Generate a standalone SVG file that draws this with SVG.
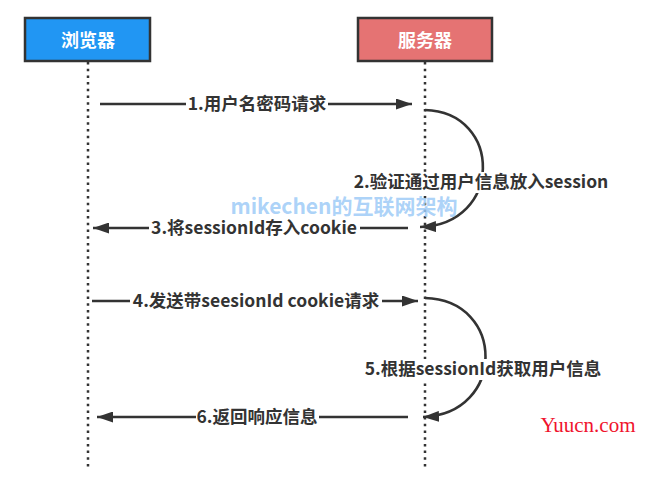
<svg xmlns="http://www.w3.org/2000/svg" width="650" height="480" viewBox="0 0 650 480">
<defs>
<marker id="ah" markerWidth="16" markerHeight="11" refX="16" refY="5.5" orient="auto" markerUnits="userSpaceOnUse">
<path d="M0,0 L16,5.5 L0,11 Z" fill="#333"/>
</marker>
<style>
.box{stroke:#333;stroke-width:2.5}
.bt{font-family:"Noto Sans CJK SC","Noto Sans",sans-serif;font-weight:bold;font-size:18px;fill:#fff;text-anchor:middle}
.life{stroke:#333;stroke-width:2.5;stroke-dasharray:2.5 4.2;fill:none}
.msg{stroke:#333;stroke-width:2.6;fill:none}
.lbl{font-family:"Noto Sans CJK SC","Noto Sans",sans-serif;font-weight:bold;font-size:17.5px;fill:#333;text-anchor:middle}
.bg{fill:#fff}
</style>
</defs>
<rect width="650" height="480" fill="#fff"/>
<g id="lifelines">
<line class="life" x1="88" y1="62" x2="88" y2="467"/>
<line class="life" x1="425" y1="62" x2="425" y2="467"/>
</g>
<g id="browser">
<rect class="box" x="25" y="18" width="125" height="43" fill="#2196F3"/>
<text class="bt" x="88" y="47">浏览器</text>
</g>
<g id="server">
<rect class="box" x="358" y="18" width="134" height="43" fill="#E57373"/>
<text class="bt" x="425" y="47">服务器</text>
</g>
<g id="connectors">
<line class="msg" x1="100" y1="104" x2="412" y2="104" marker-end="url(#ah)"/>
<path class="msg" d="M425,110 C503,112 503,225 420,227" marker-end="url(#ah)"/>
<line class="msg" x1="408" y1="228" x2="93" y2="228" marker-end="url(#ah)"/>
<line class="msg" x1="92" y1="301" x2="418" y2="301" marker-end="url(#ah)"/>
<path class="msg" d="M425,298 C506,300 506,414 423,417" marker-end="url(#ah)"/>
<line class="msg" x1="408" y1="417" x2="97" y2="417" marker-end="url(#ah)"/>
</g>
<g id="labels">
<rect class="bg" x="186" y="94" width="142" height="20"/>
<text class="lbl" x="257" y="110">1.用户名密码请求</text>
<rect class="bg" x="354" y="172" width="256" height="21"/>
<text class="lbl" x="481" y="188">2.验证通过用户信息放入session</text>
<rect class="bg" x="149" y="220" width="211" height="17"/>
<text class="lbl" x="254" y="234">3.将sessionId存入cookie</text>
<rect class="bg" x="130" y="291" width="252" height="20"/>
<text class="lbl" x="256" y="307">4.发送带seesionId cookie请求</text>
<rect class="bg" x="362" y="359" width="242" height="21"/>
<text class="lbl" x="483" y="375">5.根据sessionId获取用户信息</text>
<rect class="bg" x="196" y="407" width="123" height="20"/>
<text class="lbl" x="257" y="423">6.返回响应信息</text>
</g>
<g id="watermarks">
<text x="344" y="214" font-family="Noto Sans CJK SC,Noto Sans,sans-serif" font-weight="bold" font-size="21px" fill="#9ECBF7" fill-opacity="0.85" text-anchor="middle">mikechen的互联网架构</text>
<text x="588" y="432" font-family="Liberation Serif,serif" font-size="21px" fill="#F0142D" text-anchor="middle">Yuucn.com</text>
</g>
</svg>
